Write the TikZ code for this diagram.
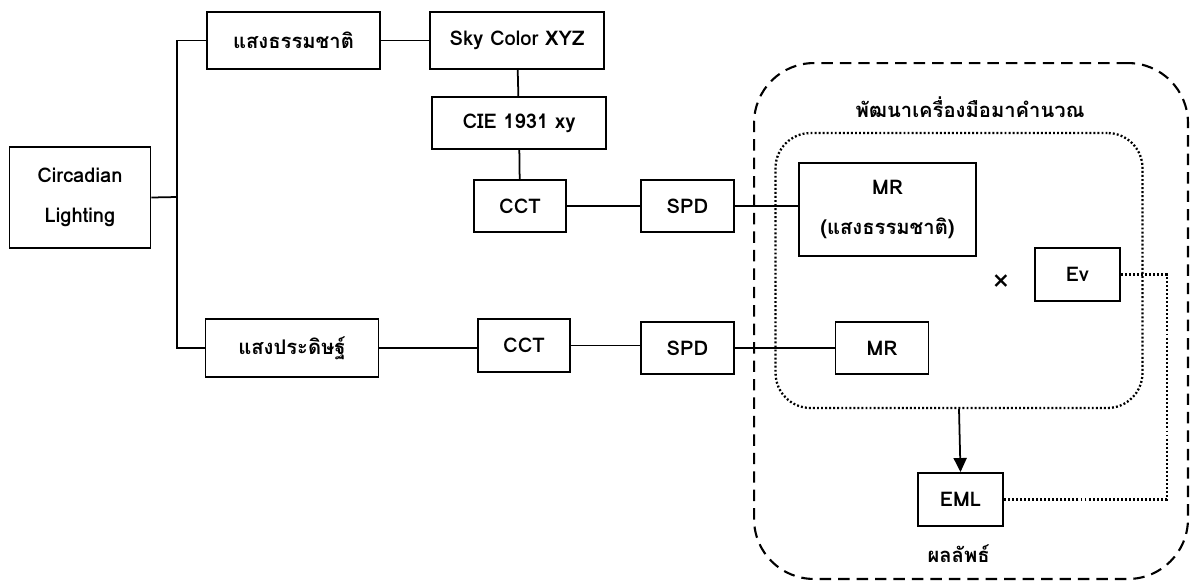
\documentclass[tikz,border=0pt]{standalone}
\usepackage{fontspec}
\setmainfont[Script=Thai]{Loma}
\usepackage{tikz}
\usetikzlibrary{arrows.meta, positioning}

\begin{document}
\begin{tikzpicture}[
  x=0.02cm, y=-0.02cm,
  box/.style   = {rectangle, draw, line width=1.1pt, inner sep=0pt,
                  minimum height=1.04cm, align=center,
                  font=\fontsize{11.5}{23}\selectfont\bfseries},
  lbl/.style   = {font=\fontsize{11.5}{23}\selectfont\bfseries, inner sep=0pt},
  conn/.style  = {line width=1pt},
  dots/.style  = {line width=1.3pt, dash pattern=on 1.1pt off 1.2pt},
  arr/.style   = {-{Triangle[length=0.28cm, width=0.26cm]}, line width=1pt}
]
\useasboundingbox (0,0) rectangle (1192,582);

% Outer group and inner group
\node[draw, dash pattern=on 6.5pt off 4pt, line width=1.2pt, rounded corners=1.2cm,
      minimum width=8.68cm, minimum height=10.32cm] (tool) at (971,321) {};
\node[lbl] (tooltitle) at (970,107) {พัฒนาเครื่องมือมาคำนวณ};
\node[draw, dots, rounded corners=0.7cm,
      minimum width=7.34cm, minimum height=5.5cm] (calc) at (959,270.5) {};

% Left tree
\node[box, minimum width=2.82cm, minimum height=2.02cm] (circ) at (80,197.5) {Circadian\\Lighting};
\node[box, minimum width=3.46cm, minimum height=1.14cm] (nat) at (293.5,40.5) {แสงธรรมชาติ};
\node[box, minimum width=3.48cm, minimum height=1.14cm] (sky) at (517,40.5) {Sky Color XYZ};
\node[box, minimum width=3.48cm] (cie) at (519,123) {CIE 1931 xy};
\node[box, minimum width=1.84cm] (cct1) at (520,206) {CCT};
\node[box, minimum width=1.86cm] (spd1) at (687.5,206) {SPD};
\node[box, minimum width=3.46cm, minimum height=1.16cm] (art) at (292,348) {แสงประดิษฐ์};
\node[box, minimum width=1.84cm, minimum height=1.06cm] (cct2) at (524,345.5) {CCT};
\node[box, minimum width=1.86cm] (spd2) at (687.5,348) {SPD};

% Inside the tool
\node[box, minimum width=3.54cm, minimum height=1.86cm] (mrnat) at (887.5,209.5) {MR\\(แสงธรรมชาติ)};
\node[box, minimum width=1.86cm] (mr) at (882,348) {MR};
\node[box, minimum width=1.7cm, minimum height=1.06cm] (ev) at (1077.5,274.5) {Ev};
\node[inner sep=0pt, font=\fontsize{17}{17}\selectfont] (times) at (1001,283) {×};
\node[box, minimum width=1.7cm, minimum height=1.06cm] (eml) at (960.5,499.5) {EML};
\node[lbl] (result) at (958.6,554) {ผลลัพธ์};

\coordinate (trunk) at (177,197);
\coordinate (loop) at (1167,499.5);

% Connectors
\draw[conn] (circ.east) -- (trunk);
\draw[conn] (nat.west) -| (trunk) |- (art.west);
\draw[conn] (nat) -- (sky);
\draw[conn] (sky) -- (cie);
\draw[conn] (cie) -- (cct1);
\draw[conn] (cct1.east) -- (cct1.east -| spd1.west);
\draw[conn] (spd1.east) -- (spd1.east -| mrnat.west);
\draw[conn] (art.east) -- (art.east -| cct2.west);
\draw[conn] (cct2.east) -- (cct2.east -| spd2.west);
\draw[conn] (spd2) -- (mr);

% Result
\draw[arr] (calc.south) -- (eml.north);
\draw[dots] (ev.east) -| (loop) -- (eml.east);

\end{tikzpicture}
\end{document}
